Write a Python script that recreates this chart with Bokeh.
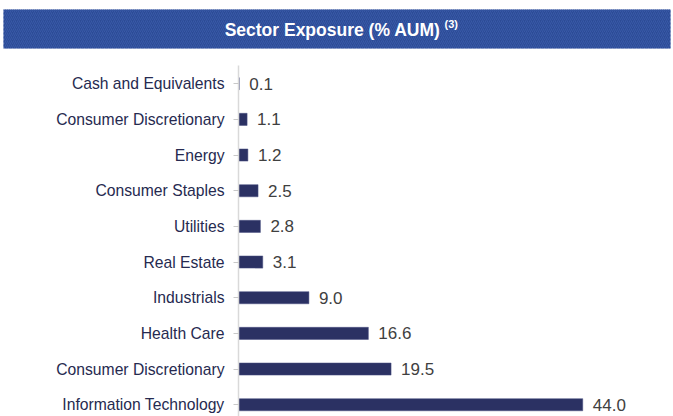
from bokeh.plotting import figure
from bokeh.models import Range1d, FixedTicker, ColumnDataSource
from bokeh.layouts import column
from bokeh.embed import file_html
from bokeh.resources import INLINE
from bokeh.core.properties import value

# Data (top to bottom as shown)
categories = ["Cash and Equivalents", "Consumer Discretionary", "Energy",
              "Consumer Staples", "Utilities", "Real Estate", "Industrials",
              "Health Care", "Consumer Discretionary", "Information Technology"]
values = [0.1, 1.1, 1.2, 2.5, 2.8, 3.1, 9.0, 16.6, 19.5, 44.0]
value_labels = ["%.1f" % v for v in values]
title_text = "Sector Exposure (% AUM)"
title_note = "(3)"

n = len(categories)
positions = [n - 1 - i for i in range(n)]

FONT = "Liberation Sans"

# Header band
hdr = figure(width=673, height=50, output_backend="svg", toolbar_location=None,
             x_range=Range1d(0, 673), y_range=Range1d(50, 0),
             min_border=0, outline_line_color=None)
hdr.frame_align = False
hdr.axis.visible = False
hdr.grid.visible = False
hdr.quad(left=[3], right=[670], top=[9], bottom=[48],
         fill_color="#2c4b96", line_color=None,
         hatch_pattern="/", hatch_color="#3b5cab", hatch_scale=4, hatch_weight=1,
         hatch_alpha=0.8)
hdr.text(x=[440], y=[29], text=[title_text], text_align="right",
         text_baseline="middle", text_color="white",
         text_font=value(FONT), text_font_style="bold", text_font_size="17.5px")
hdr.text(x=[444], y=[23], text=[title_note], text_align="left",
         text_baseline="middle", text_color="white",
         text_font=value(FONT), text_font_style="bold", text_font_size="11px")

# Main chart
src = ColumnDataSource(dict(y=positions, v=values, lab=value_labels))
p = figure(width=673, height=366, output_backend="svg", toolbar_location=None,
           x_range=Range1d(0, 55.6), y_range=Range1d(-0.33, 9.51),
           min_border_left=238, min_border_right=0, min_border_top=15,
           min_border_bottom=0, outline_line_color=None)
p.frame_align = False
p.hbar(y="y", left=0, right="v", height=0.34, source=src,
       fill_color="#2b3163", line_color="#4a5080", line_width=0.5)
p.text(x="v", y="y", text="lab", source=src, x_offset=10,
       text_baseline="middle", text_align="left", text_color="#404040",
       text_font=value(FONT), text_font_size="17px")

p.xaxis.visible = False
p.grid.visible = False
ya = p.yaxis[0]
ya.ticker = FixedTicker(ticks=positions)
ya.major_label_overrides = {pos: cat for pos, cat in zip(positions, categories)}
ya.axis_line_color = "#d9d9d9"
ya.axis_line_width = 1.5
ya.major_tick_line_color = "#c8c8c8"
ya.major_tick_out = 5
ya.major_tick_in = 0
ya.minor_tick_line_color = None
ya.major_label_standoff = 9
ya.major_label_text_font = FONT
ya.major_label_text_font_size = "15.7px"
ya.major_label_text_color = "#262a50"

layout = column(hdr, p, spacing=0)
open("out.html", "w").write(file_html(layout, INLINE))
